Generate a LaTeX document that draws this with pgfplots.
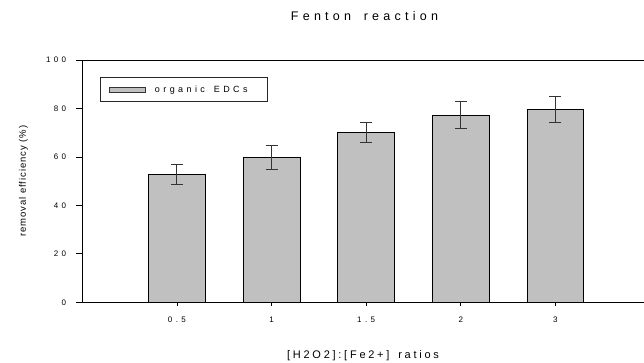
\documentclass[border=0pt]{standalone}
\usepackage{fontspec}
\setmainfont{Liberation Sans}
\newfontfamily\tickfont[LetterSpace=42]{Liberation Sans}
\newfontfamily\titlefont[LetterSpace=34]{Liberation Sans}
\newfontfamily\xlabfont[LetterSpace=25]{Liberation Sans}
\newfontfamily\legfont[LetterSpace=38]{Liberation Sans}
\newfontfamily\ylabfont[LetterSpace=10]{Liberation Sans}
\usepackage{pgfplots}
\pgfplotsset{compat=1.18}
\definecolor{bargray}{HTML}{C0C0C0}
\begin{document}
\begin{tikzpicture}
\begin{axis}[
  at={(0,0)}, anchor=south west,
  width=567.7bp, height=242.3bp, scale only axis,
  xmin=0, xmax=6, ymin=0, ymax=100,
  ytick={0,20,...,100},
  xtick={1,2,3,4,5}, xticklabels={0.5,1,1.5,2,3},
  tick align=outside,
  xtick pos=left, ytick pos=left,
  major tick length=6bp,
  xtick style={/pgfplots/major tick length=3.5bp, line width=0.8bp, black},
  ytick style={line width=0.8bp, black},
  axis line style={line width=0.9bp, black},
  /pgf/number format/assume math mode=true,
  yticklabel style={font=\tickfont\fontsize{8bp}{9.5bp}\selectfont, anchor=east, inner sep=0pt, xshift=-10bp},
  xticklabel style={font=\tickfont\fontsize{8bp}{9.5bp}\selectfont, anchor=north, inner sep=0pt, yshift=-8bp},
  ybar, bar width=0.6,
  legend style={at={(0.0312,0.9286)}, anchor=north west, draw=black!85, line width=0.8bp,
    font=\legfont\fontsize{9bp}{10.5bp}\selectfont, inner xsep=9bp, inner ysep=6bp,
    nodes={inner sep=2bp}, column sep=7bp},
  legend cell align=left,
]
\addplot[fill=bargray, draw=black, line width=0.8bp,
  legend image code/.code={\draw[fill=bargray, draw=black!80, line width=0.8bp] (0bp,-2.7bp) rectangle (35.7bp,2.7bp);},
  error bars/.cd, y dir=both, y explicit,
  error bar style={line width=1bp, color=black!80},
  error mark options={rotate=90, mark size=6bp, line width=1bp, color=black!80}]
  coordinates {
  (1,52.7) +- (0,4.1)
  (2,59.8) +- (0,4.8)
  (3,70.0) +- (0,4.0)
  (4,77.2) +- (0,5.5)
  (5,79.6) +- (0,5.4)
  };
\addlegendentry{organic\hspace{3bp} EDCs\kern9bp\null}
\end{axis}
\node[anchor=base] at (282.2bp,281.3bp) {\titlefont\fontsize{12.5bp}{14bp}\selectfont Fenton\hspace{5bp} reaction};
\node[anchor=base] at (280.7bp,-56bp) {\xlabfont\fontsize{11bp}{13bp}\selectfont [H2O2]:[Fe2+]\hspace{3bp} ratios};
\node[rotate=90, anchor=center] at (-59bp,121bp) {\ylabfont\fontsize{9.5bp}{11bp}\selectfont removal efficiency (\%)};
\pgfresetboundingbox
\path[use as bounding box] (-82.3bp,-60.7bp) rectangle (561.7bp,302.3bp);
\end{tikzpicture}
\end{document}
